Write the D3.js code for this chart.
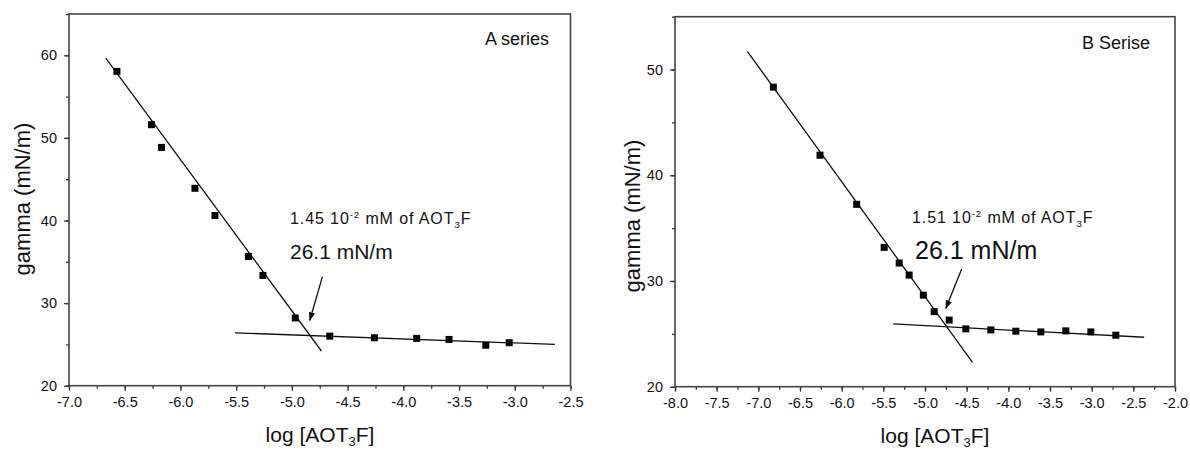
<!DOCTYPE html>
<html><head><meta charset="utf-8">
<script src="https://cdn.jsdelivr.net/npm/d3@7"></script>
<style>
html,body{margin:0;padding:0;background:#fff;}
svg{display:block;font-family:"Liberation Sans",Arial,Helvetica,sans-serif;}
</style></head>
<body>
<svg id="chart" width="1190" height="450"></svg>
<script>
// ---------- DATA ----------
// Panel A (A series)
const aLogC  = [-6.57, -6.26, -6.17, -5.87, -5.69, -5.39, -5.26, -4.97, -4.66, -4.26, -3.88, -3.59, -3.26, -3.05];
const aGamma = [58.05, 51.6, 48.85, 43.9, 40.6, 35.65, 33.35, 28.2, 26.0, 25.8, 25.73, 25.6, 24.9, 25.2];
const aFitSteepX = [-6.67, -4.735];
const aFitSteepY = [59.66, 24.2];
const aFitFlatX  = [-5.51, -2.64];
const aFitFlatY  = [26.4, 25.0];
const aArrowX = [-4.726, -4.84];
const aArrowY = [33.2, 27.9];
const aXTicks = [-7.0, -6.5, -6.0, -5.5, -5.0, -4.5, -4.0, -3.5, -3.0, -2.5];
const aYTicks = [20, 30, 40, 50, 60];
const aXDomain = [-7.0, -2.5];
const aYDomain = [20, 65];
const aTitle = "A series";
const aConc = "1.45 10";
const aCmc = "26.1 mN/m";

// Panel B (B Serise)
const bLogC  = [-6.82, -6.26, -5.82, -5.49, -5.31, -5.19, -5.02, -4.89, -4.71, -4.51, -4.21, -3.91, -3.61, -3.31, -3.01, -2.71];
const bGamma = [48.34, 41.9, 37.25, 33.18, 31.7, 30.56, 28.66, 27.1, 26.3, 25.47, 25.37, 25.25, 25.18, 25.28, 25.18, 24.87];
const bFitSteepX = [-7.13, -4.43];
const bFitSteepY = [51.7, 22.3];
const bFitFlatX  = [-5.38, -2.37];
const bFitFlatY  = [25.94, 24.68];
const bArrowX = [-4.56, -4.75];
const bArrowY = [31.13, 27.4];
const bXTicks = [-8.0, -7.5, -7.0, -6.5, -6.0, -5.5, -5.0, -4.5, -4.0, -3.5, -3.0, -2.5, -2.0];
const bYTicks = [20, 30, 40, 50];
const bXDomain = [-8.0, -2.0];
const bYDomain = [20, 55];
const bTitle = "B Serise";
const bConc = "1.51 10";
const bCmc = "26.1 mN/m";

const yLabelText = "gamma (mN/m)";

// ---------- DRAW ----------
const svg = d3.select("#chart");
const defs = svg.append("defs");
defs.append("marker").attr("id","arrowhead")
  .attr("viewBox","0 0 10 10").attr("refX",9).attr("refY",5)
  .attr("markerWidth",9).attr("markerHeight",9).attr("markerUnits","userSpaceOnUse")
  .attr("orient","auto")
  .append("path").attr("d","M0,1.5 L10,5 L0,8.5 Z").attr("fill","#111");

const fmtX = d => d.toFixed(1);          // plain hyphen minus, as in the figure
const fmtY = d => String(d);

function panel(cfg){
  const x = d3.scaleLinear().domain(cfg.xDomain).range([cfg.left, cfg.right]);
  const y = d3.scaleLinear().domain(cfg.yDomain).range([cfg.bottom, cfg.top]);
  const g = svg.append("g");

  // minor ticks
  const xMinor = d3.range(cfg.xDomain[0], cfg.xDomain[1] + 1e-9, 0.25);
  const yMinor = d3.range(cfg.yDomain[0], cfg.yDomain[1] + 1e-9, 5);
  g.append("g").attr("transform",`translate(0,${cfg.bottom})`)
    .call(d3.axisBottom(x).tickValues(xMinor).tickSize(3).tickFormat(""))
    .call(s=>s.select(".domain").remove())
    .call(s=>s.selectAll("line").attr("stroke","#333").attr("stroke-width",1.3));
  g.append("g").attr("transform",`translate(${cfg.left},0)`)
    .call(d3.axisLeft(y).tickValues(yMinor).tickSize(3).tickFormat(""))
    .call(s=>s.select(".domain").remove())
    .call(s=>s.selectAll("line").attr("stroke","#333").attr("stroke-width",1.3));

  // major ticks
  const xa = g.append("g").attr("transform",`translate(0,${cfg.bottom})`)
    .call(d3.axisBottom(x).tickValues(cfg.xTicks).tickSize(5).tickPadding(6).tickFormat(fmtX));
  xa.select(".domain").remove();
  xa.selectAll("line").attr("stroke","#333").attr("stroke-width",1.3);
  xa.selectAll("text").attr("font-size",14.5).attr("fill","#111")
    .attr("font-family","Liberation Sans, Arial, sans-serif");
  const ya = g.append("g").attr("transform",`translate(${cfg.left},0)`)
    .call(d3.axisLeft(y).tickValues(cfg.yTicks).tickSize(5).tickPadding(cfg.yPad).tickFormat(fmtY));
  ya.select(".domain").remove();
  ya.selectAll("line").attr("stroke","#333").attr("stroke-width",1.3);
  ya.selectAll("text").attr("font-size",14.5).attr("fill","#111")
    .attr("font-family","Liberation Sans, Arial, sans-serif");

  // frame
  g.append("rect").attr("x",cfg.left).attr("y",cfg.top)
    .attr("width",cfg.right-cfg.left).attr("height",cfg.bottom-cfg.top)
    .attr("fill","none").attr("stroke","#444").attr("stroke-width",1.6);

  // fit lines
  const line = d3.line().x(d=>x(d[0])).y(d=>y(d[1]));
  [[cfg.steepX,cfg.steepY],[cfg.flatX,cfg.flatY]].forEach(([xs,ys])=>{
    g.append("path").attr("d", line(xs.map((v,i)=>[v,ys[i]])))
      .attr("fill","none").attr("stroke","#111").attr("stroke-width",1.3);
  });

  // points
  const sym = d3.symbol().type(d3.symbolSquare).size(49);
  g.selectAll("path.pt").data(cfg.xs.map((v,i)=>[v,cfg.ys[i]])).join("path")
    .attr("class","pt").attr("d",sym)
    .attr("transform",d=>`translate(${x(d[0])},${y(d[1])})`)
    .attr("fill","#000");

  // arrow
  g.append("line")
    .attr("x1",x(cfg.arrowX[0])).attr("y1",y(cfg.arrowY[0]))
    .attr("x2",x(cfg.arrowX[1])).attr("y2",y(cfg.arrowY[1]))
    .attr("stroke","#111").attr("stroke-width",1.3).attr("marker-end","url(#arrowhead)");

  // title
  g.append("text").attr("x",cfg.titlePos[0]).attr("y",cfg.titlePos[1])
    .attr("font-size",cfg.titleSize).attr("fill","#111").text(cfg.title);

  // annotation: concentration
  const t = g.append("text").attr("x",cfg.concPos[0]).attr("y",cfg.concPos[1])
    .attr("font-size",cfg.concSize).attr("fill","#111").attr("letter-spacing",cfg.concLS);
  t.append("tspan").text(cfg.conc);
  t.append("tspan").attr("font-size",cfg.concSize*0.6).attr("dy",-6).text("-2");
  t.append("tspan").attr("dy",6).text(" mM of AOT");
  t.append("tspan").attr("font-size",cfg.concSize*0.6).attr("dy",4).text("3");
  t.append("tspan").attr("dy",-4).text("F");

  // annotation: cmc gamma
  g.append("text").attr("x",cfg.cmcPos[0]).attr("y",cfg.cmcPos[1])
    .attr("font-size",cfg.cmcSize).attr("fill","#111").text(cfg.cmc);

  // axis labels
  const xl = g.append("text").attr("x",cfg.xLabelPos[0]).attr("y",cfg.xLabelPos[1])
    .attr("text-anchor","middle").attr("font-size",21).attr("fill","#111");
  xl.append("tspan").text("log [AOT");
  xl.append("tspan").attr("font-size",13).attr("dy",4).text("3");
  xl.append("tspan").attr("dy",-4).text("F]");

  g.append("text")
    .attr("transform",`translate(${cfg.yLabelPos[0]},${cfg.yLabelPos[1]}) rotate(-90)`)
    .attr("text-anchor","middle").attr("dy","0.35em").attr("font-size",22).attr("fill","#111")
    .text(yLabelText);
}

panel({
  left:69, right:570.5, top:14, bottom:385.7, yPad:7,
  xDomain:aXDomain, yDomain:aYDomain, xTicks:aXTicks, yTicks:aYTicks,
  xs:aLogC, ys:aGamma,
  steepX:aFitSteepX, steepY:aFitSteepY, flatX:aFitFlatX, flatY:aFitFlatY,
  arrowX:aArrowX, arrowY:aArrowY,
  title:aTitle, titlePos:[485,45], titleSize:18,
  conc:aConc, concPos:[290,224], concSize:16, concLS:0.9,
  cmc:aCmc, cmcPos:[290,259], cmcSize:21,
  xLabelPos:[320,442], yLabelPos:[22,199]
});

panel({
  left:675, right:1175, top:16.7, bottom:386.7, yPad:7,
  xDomain:bXDomain, yDomain:bYDomain, xTicks:bXTicks, yTicks:bYTicks,
  xs:bLogC, ys:bGamma,
  steepX:bFitSteepX, steepY:bFitSteepY, flatX:bFitFlatX, flatY:bFitFlatY,
  arrowX:bArrowX, arrowY:bArrowY,
  title:bTitle, titlePos:[1082,49], titleSize:18,
  conc:bConc, concPos:[912,223], concSize:16, concLS:0.9,
  cmc:bCmc, cmcPos:[915,259], cmcSize:25,
  xLabelPos:[935,443], yLabelPos:[632,216]
});
</script>
</body></html>
